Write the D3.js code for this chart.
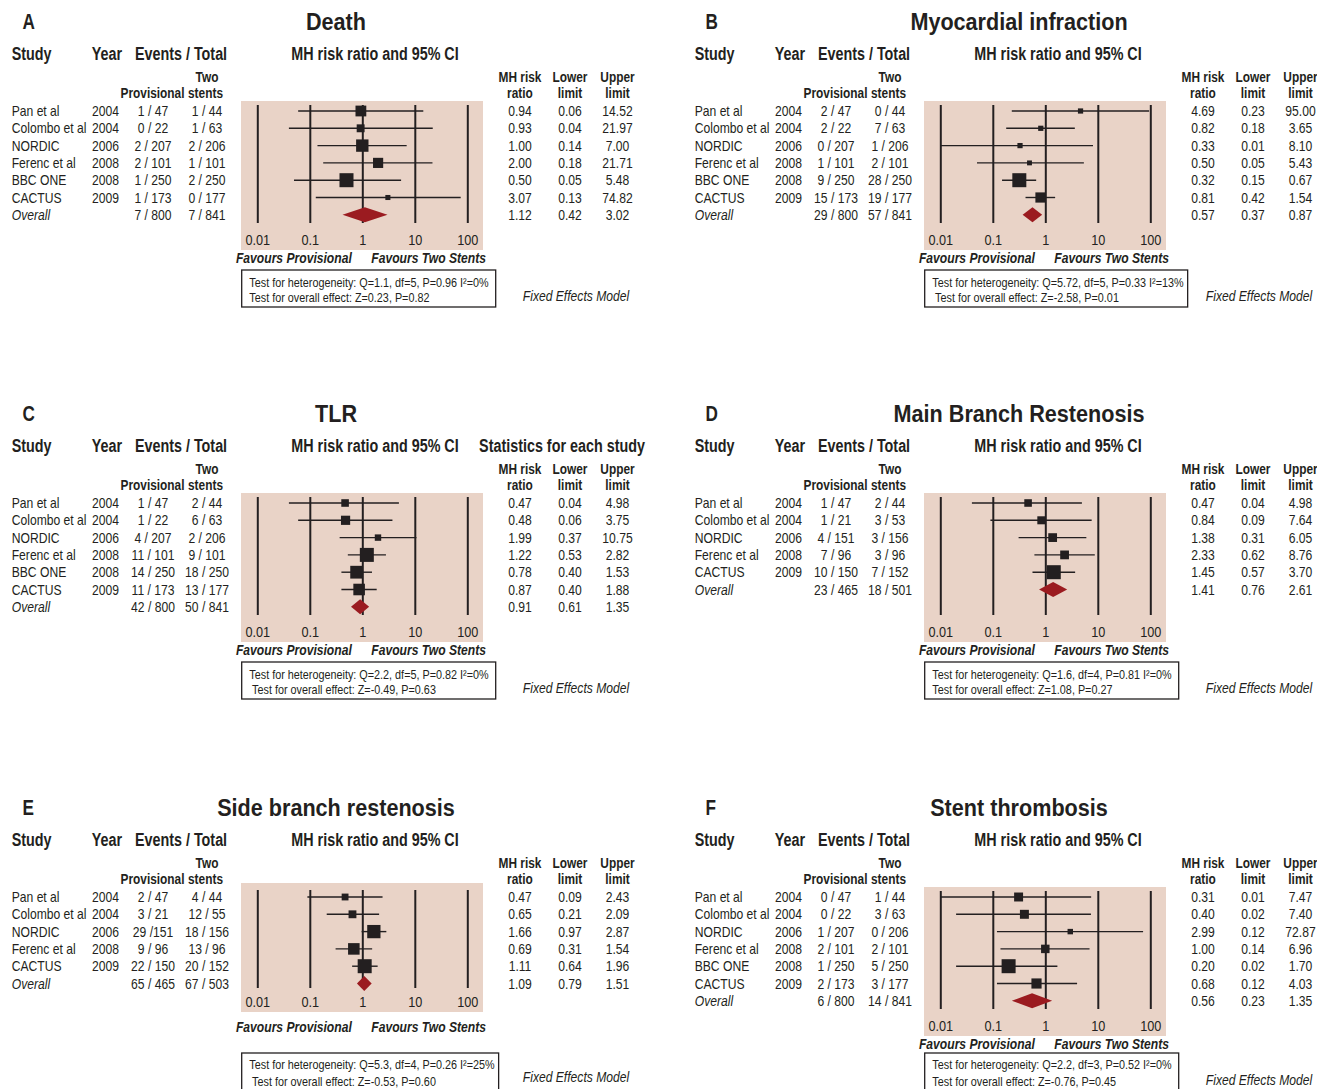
<!DOCTYPE html>
<html>
<head>
<meta charset="utf-8">
<script src="https://cdn.jsdelivr.net/npm/d3@7/dist/d3.min.js"></script>
<style>
  html, body { margin: 0; padding: 0; background: #ffffff; }
  svg { display: block; }
  text { font-family: "Liberation Sans", Arial, sans-serif; fill: #231f20; }
</style>
</head>
<body>
<svg id="chart" width="1317" height="1089"></svg>
<script>
// ---------------- DATA ----------------
const letters = ["A", "B", "C", "D", "E", "F"];
const titles = ["Death", "Myocardial infraction", "TLR", "Main Branch Restenosis", "Side branch restenosis", "Stent thrombosis"];

const studies6 = ["Pan et al", "Colombo et al", "NORDIC", "Ferenc et al", "BBC ONE", "CACTUS", "Overall"];
const years6 = ["2004", "2004", "2006", "2008", "2008", "2009", ""];
const studies5 = ["Pan et al", "Colombo et al", "NORDIC", "Ferenc et al", "CACTUS", "Overall"];
const years5 = ["2004", "2004", "2006", "2008", "2009", ""];

const tickValues = [0.01, 0.1, 1, 10, 100];
const tickLabels = ["0.01", "0.1", "1", "10", "100"];

// A - Death
const provA = ["1 / 47", "0 / 22", "2 / 207", "2 / 101", "1 / 250", "1 / 173", "7 / 800"];
const twoA  = ["1 / 44", "1 / 63", "2 / 206", "1 / 101", "2 / 250", "0 / 177", "7 / 841"];
const rrA = [0.94, 0.93, 1.00, 2.00, 0.50, 3.07, 1.12];
const loA = [0.06, 0.04, 0.14, 0.18, 0.05, 0.13, 0.42];
const hiA = [14.52, 21.97, 7.00, 21.71, 5.48, 74.82, 3.02];
const wA  = [17.7, 9.5, 23.3, 15.7, 29.8, 3.9];
const hetA = ["Test for heterogeneity: Q=1.1, df=5, P=0.96 I\u00B2=0%", "Test for overall effect: Z=0.23, P=0.82"];

// B - Myocardial infraction
const provB = ["2 / 47", "2 / 22", "0 / 207", "1 / 101", "9 / 250", "15 / 173", "29 / 800"];
const twoB  = ["0 / 44", "7 / 63", "1 / 206", "2 / 101", "28 / 250", "19 / 177", "57 / 841"];
const rrB = [4.69, 0.82, 0.33, 0.50, 0.32, 0.81, 0.57];
const loB = [0.23, 0.18, 0.01, 0.05, 0.15, 0.42, 0.37];
const hiB = [95.00, 3.65, 8.10, 5.43, 0.67, 1.54, 0.87];
const wB  = [6.7, 6.7, 6.7, 5.9, 48.3, 25.7];
const hetB = ["Test for heterogeneity: Q=5.72, df=5, P=0.33 I\u00B2=13%", " Test for overall effect: Z=-2.58, P=0.01"];

// C - TLR
const provC = ["1 / 47", "1 / 22", "4 / 207", "11 / 101", "14 / 250", "11 / 173", "42 / 800"];
const twoC  = ["2 / 44", "6 / 63", "2 / 206", "9 / 101", "18 / 250", "13 / 177", "50 / 841"];
const rrC = [0.47, 0.48, 1.99, 1.22, 0.78, 0.87, 0.91];
const loC = [0.04, 0.06, 0.37, 0.53, 0.40, 0.40, 0.61];
const hiC = [4.98, 3.75, 10.75, 2.82, 1.53, 1.88, 1.35];
const wC  = [8.5, 12.5, 6.1, 29.0, 24.1, 19.8];
const hetC = ["Test for heterogeneity: Q=2.2, df=5, P=0.82 I\u00B2=0%", " Test for overall effect: Z=-0.49, P=0.63"];

// D - Main Branch Restenosis
const provD = ["1 / 47", "1 / 21", "4 / 151", "7 / 96", "10 / 150", "23 / 465"];
const twoD  = ["2 / 44", "3 / 53", "3 / 156", "3 / 96", "7 / 152", "18 / 501"];
const rrD = [0.47, 0.84, 1.38, 2.33, 1.45, 1.41];
const loD = [0.04, 0.09, 0.31, 0.62, 0.57, 0.76];
const hiD = [4.98, 7.64, 6.05, 8.76, 3.70, 2.61];
const wD  = [12.2, 13.6, 16.3, 16.3, 41.6];
const hetD = ["Test for heterogeneity: Q=1.6, df=4, P=0.81 I\u00B2=0%", "Test for overall effect: Z=1.08, P=0.27"];

// E - Side branch restenosis
const provE = ["2 / 47", "3 / 21", "29 /151", "9 / 96", "22 / 150", "65 / 465"];
const twoE  = ["4 / 44", "12 / 55", "18 / 156", "13 / 96", "20 / 152", "67 / 503"];
const rrE = [0.47, 0.65, 1.66, 0.69, 1.11, 1.09];
const loE = [0.09, 0.21, 0.97, 0.31, 0.64, 0.79];
const hiE = [2.43, 2.09, 2.87, 1.54, 1.96, 1.51];
const wE  = [7.6, 10.0, 28.7, 21.7, 31.9];
const hetE = ["Test for heterogeneity: Q=5.3, df=4, P=0.26 I\u00B2=25%", " Test for overall effect: Z=-0.53, P=0.60"];

// F - Stent thrombosis
const provF = ["0 / 47", "0 / 22", "1 / 207", "2 / 101", "1 / 250", "2 / 173", "6 / 800"];
const twoF  = ["1 / 44", "3 / 63", "0 / 206", "2 / 101", "5 / 250", "3 / 177", "14 / 841"];
const rrF = [0.31, 0.40, 2.99, 1.00, 0.20, 0.68, 0.56];
const loF = [0.01, 0.02, 0.12, 0.14, 0.02, 0.12, 0.23];
const hiF = [7.47, 7.40, 72.87, 6.96, 1.70, 4.03, 1.35];
const wF  = [14.3, 14.3, 5.3, 12.8, 34.9, 18.4];
const hetF = ["Test for heterogeneity: Q=2.2, df=3, P=0.52 I\u00B2=0%", "Test for overall effect: Z=-0.76, P=0.45"];

// ---------------- LAYOUT ----------------
const INK = "#231f20", PINK = "#e9d3c7", RED = "#9b1b20";
const SX = 0.82; // condensed text
const layStd = {pinkTop:101, pinkBot:250, lineTop:105, lineBot:223, tickY:239.5, favY:258, boxTop:270, boxBot:307, t1:282, t2:297, femY:295.5};
const layF = Object.assign({}, layStd, {boxTop:267, boxBot:306, t1:278.5, t2:295.5, femY:294});
const layE = {pinkTop:97, pinkBot:226, lineTop:104, lineBot:202, tickY:216, favY:240.7, boxTop:267, boxBot:306, t1:278.5, t2:295.5, femY:291};

const panels = [
  {x0:0,   y0:0,   studies:studies6, years:years6, prov:provA, two:twoA, rr:rrA, lo:loA, hi:hiA, w:wA, het:hetA, lay:layStd},
  {x0:683, y0:0,   studies:studies6, years:years6, prov:provB, two:twoB, rr:rrB, lo:loB, hi:hiB, w:wB, het:hetB, lay:layStd},
  {x0:0,   y0:392, studies:studies6, years:years6, prov:provC, two:twoC, rr:rrC, lo:loC, hi:hiC, w:wC, het:hetC, lay:layStd, extra:"Statistics for each study"},
  {x0:683, y0:392, studies:studies5, years:years5, prov:provD, two:twoD, rr:rrD, lo:loD, hi:hiD, w:wD, het:hetD, lay:layStd},
  {x0:0,   y0:786, studies:studies5, years:years5, prov:provE, two:twoE, rr:rrE, lo:loE, hi:hiE, w:wE, het:hetE, lay:layE},
  {x0:683, y0:786, studies:studies6, years:years6, prov:provF, two:twoF, rr:rrF, lo:loF, hi:hiF, w:wF, het:hetF, lay:layF}
];

const svg = d3.select("#chart");

function T(g, x, y, s, o) {
  o = o || {};
  const sx = o.sx || SX;
  return g.append("text")
    .attr("transform", `translate(${x},${y}) scale(${sx},1)`)
    .attr("text-anchor", o.anchor || "start")
    .attr("dy", "0.35em")
    .attr("xml:space", "preserve")
    .style("white-space", "pre")
    .style("font-size", (o.size || 14.5) + "px")
    .style("font-weight", o.bold ? "bold" : "normal")
    .style("font-style", o.italic ? "italic" : "normal")
    .text(s);
}

const ROW0 = 111, ROWSTEP = 17.3;

panels.forEach((p, k) => {
  const g = svg.append("g").attr("transform", `translate(${p.x0},${p.y0})`);
  const L = p.lay;

  // Letter and title
  T(g, 22.5, 21.5, letters[k], {bold:true, size:22, sx:0.78});
  T(g, 336, 21.5, titles[k], {bold:true, size:24, anchor:"middle", sx:0.9});

  // Column headers
  T(g, 11.7, 53.5, "Study", {bold:true, size:17.5});
  T(g, 91.7, 53.5, "Year", {bold:true, size:17.5});
  T(g, 181, 53.5, "Events / Total", {bold:true, size:17.5, anchor:"middle"});
  T(g, 375, 53.5, "MH risk ratio and 95% CI", {bold:true, size:17.5, anchor:"middle"});
  if (p.extra) T(g, 562, 53.5, p.extra, {bold:true, size:17.5, anchor:"middle"});

  T(g, 207, 76.5, "Two", {bold:true, anchor:"middle"});
  T(g, 152.5, 93.3, "Provisional", {bold:true, anchor:"middle"});
  T(g, 205.5, 93.3, "stents", {bold:true, anchor:"middle"});
  const statX = [520, 570, 617.5];
  [["MH risk", "ratio"], ["Lower", "limit"], ["Upper", "limit"]].forEach((h, i) => {
    T(g, statX[i], 76.5, h[0], {bold:true, anchor:"middle"});
    T(g, statX[i], 93.3, h[1], {bold:true, anchor:"middle"});
  });

  // Table rows
  const n = p.studies.length;
  const rowY = i => ROW0 + ROWSTEP * i;
  p.studies.forEach((s, i) => {
    const last = i === n - 1;
    T(g, 11.7, rowY(i), s, {italic: last, size:14.8});
    if (p.years[i]) T(g, 92, rowY(i), p.years[i], {size:14.8});
    T(g, 153, rowY(i), p.prov[i], {anchor:"middle", size:14.8});
    T(g, 207, rowY(i), p.two[i], {anchor:"middle", size:14.8});
    T(g, statX[0], rowY(i), p.rr[i].toFixed(2), {anchor:"middle", size:14.8});
    T(g, statX[1], rowY(i), p.lo[i].toFixed(2), {anchor:"middle", size:14.8});
    T(g, statX[2], rowY(i), p.hi[i].toFixed(2), {anchor:"middle", size:14.8});
  });

  // Plot
  const x = d3.scaleLog().domain([0.01, 100]).range([257.3, 467.3]);
  g.append("rect").attr("x", 241).attr("y", L.pinkTop)
    .attr("width", 242).attr("height", L.pinkBot - L.pinkTop).attr("fill", PINK);

  // grid lines through an axis with inner ticks spanning the plot
  const grid = g.append("g").attr("transform", `translate(0,${L.lineBot})`)
    .call(d3.axisBottom(x).tickValues(tickValues).tickFormat("").tickSizeInner(-(L.lineBot - L.lineTop)).tickSizeOuter(0));
  grid.select(".domain").remove();
  grid.selectAll(".tick line").attr("stroke", INK).attr("stroke-width", 2);

  // tick labels
  const ax = g.append("g").attr("transform", `translate(0,${L.tickY})`)
    .call(d3.axisBottom(x).tickValues(tickValues).tickFormat((d, i) => tickLabels[i]).tickSize(0).tickPadding(0));
  ax.select(".domain").remove();
  ax.selectAll(".tick text")
    .attr("y", 0).attr("dy", "0.35em")
    .attr("transform", `scale(${SX},1)`)
    .style("font-size", "15.5px").style("font-family", "'Liberation Sans', Arial, sans-serif")
    .attr("fill", INK);

  const sz = d3.scaleSqrt().domain([0, d3.max(p.w)]).range([0, 14]);
  const nStudies = p.w.length;
  for (let i = 0; i < nStudies; i++) {
    const y = rowY(i);
    g.append("line").attr("x1", x(p.lo[i])).attr("x2", x(p.hi[i]))
      .attr("y1", y).attr("y2", y).attr("stroke", INK).attr("stroke-width", 1.4);
    const s = sz(p.w[i]);
    g.append("rect").attr("x", x(p.rr[i]) - s / 2).attr("y", y - s / 2)
      .attr("width", s).attr("height", s).attr("fill", INK);
  }
  // overall diamond
  const yo = rowY(n - 1), hd = 7.5;
  g.append("path")
    .attr("d", `M${x(p.lo[n-1])},${yo} L${x(p.rr[n-1])},${yo - hd} L${x(p.hi[n-1])},${yo} L${x(p.rr[n-1])},${yo + hd} Z`)
    .attr("fill", RED);

  // favours
  T(g, x(1) - 10.5, L.favY, "Favours Provisional", {bold:true, italic:true, anchor:"end", size:14.8});
  T(g, x(1) + 9, L.favY, "Favours Two Stents", {bold:true, italic:true, size:14.8});

  // heterogeneity box
  const t1 = T(g, 249.3, L.t1, p.het[0], {size:13.2});
  const t2 = T(g, 249.3, L.t2, p.het[1], {size:13.2});
  const tw = Math.max(t1.node().getComputedTextLength(), t2.node().getComputedTextLength()) * SX;
  const right = Math.max(249.3 + tw + 4, 241.7 + 254);
  g.insert("rect", "text").attr("x", 241.7).attr("y", L.boxTop)
    .attr("width", right - 241.7).attr("height", L.boxBot - L.boxTop)
    .attr("fill", "none").attr("stroke", INK).attr("stroke-width", 1.3);

  T(g, 576, L.femY, "Fixed Effects Model", {italic:true, anchor:"middle", size:14.8});
});
</script>
</body>
</html>
